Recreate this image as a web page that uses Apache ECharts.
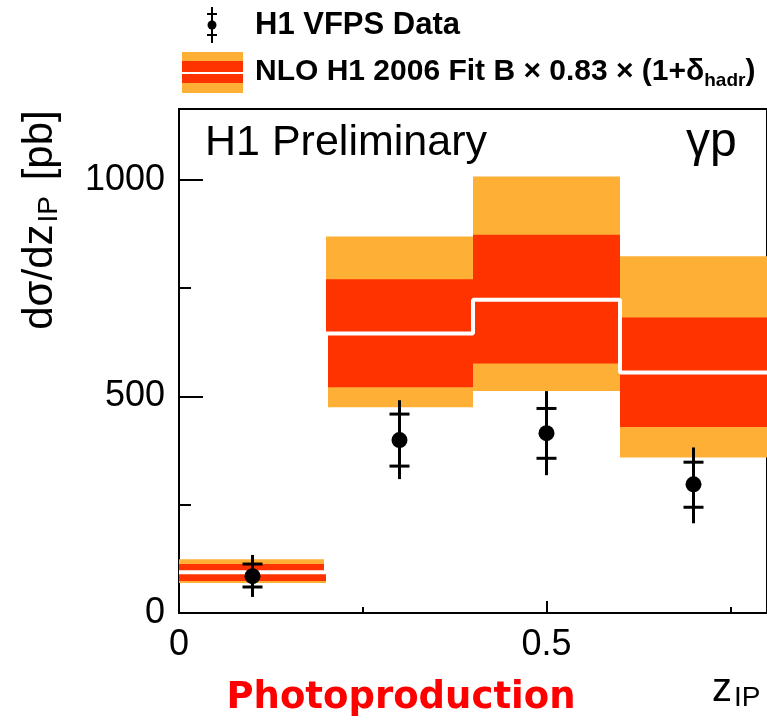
<!DOCTYPE html>
<html>
<head>
<meta charset="utf-8">
<script src="https://cdn.jsdelivr.net/npm/echarts@6/dist/echarts.min.js"></script>
<style>
html,body{margin:0;padding:0;background:#fff;}
#c{width:767px;height:726px;}
</style>
</head>
<body>
<div id="c"></div>
<script>
// ---- data ----
const binLo = [0, 0.2, 0.4, 0.6];
const binHi = [0.2, 0.4, 0.6, 0.8];
const nloCentral = [94, 645, 723, 555];
const nloInnerLo = [74, 521, 576, 429];
const nloInnerHi = [113, 770, 873, 682];
const nloOuterLo = [69, 475, 512, 359];
const nloOuterHi = [124, 869, 1007, 823];

const dataX = [0.1, 0.3, 0.5, 0.7];
const dataY = [85, 399, 415, 297];
const statLo = [60, 339, 357, 244];
const statHi = [113, 459, 472, 348];
const totLo = [37, 309, 318, 207];
const totHi = [134, 491, 512, 382];

const xTickLabels = {0: '0', 0.5: '0.5'};
const yTickLabels = {0: '0', 500: '500', 1000: '1000'};

const ORANGE = '#fdb035';
const RED = '#ff3300';
const FONT = '"Liberation Sans", Arial, Helvetica, sans-serif';

// ---- derived ----
const bandData = binLo.map((lo, i) => [lo, binHi[i], nloOuterLo[i], nloOuterHi[i], nloInnerLo[i], nloInnerHi[i]]);
const stepData = [];
binLo.forEach((lo, i) => { stepData.push([lo, nloCentral[i]]); stepData.push([binHi[i], nloCentral[i]]); });
const pointData = dataX.map((x, i) => [x, dataY[i], statLo[i], statHi[i], totLo[i], totHi[i]]);

const chart = echarts.init(document.getElementById('c'), null, {renderer: 'canvas'});

const tickLabelStyle = {fontSize: 36, color: '#000', fontFamily: FONT};

const option = {
  animation: false,
  backgroundColor: '#fff',
  grid: {left: 179, top: 109, width: 588, bottom: 113, show: true, borderColor: '#000', borderWidth: 2, backgroundColor: 'transparent'},
  xAxis: [
    {type: 'value', min: 0, max: 0.8, interval: 0.5, position: 'bottom',
     axisLine: {show: false}, splitLine: {show: false},
     axisTick: {inside: true, length: 12, lineStyle: {color: '#000', width: 2}},
     axisLabel: Object.assign({margin: 14, showMaxLabel: false, formatter: v => xTickLabels[v] || ''}, tickLabelStyle)},
    {type: 'value', min: 0, max: 0.8, interval: 0.25, position: 'bottom',
     axisLine: {show: false}, splitLine: {show: false}, axisLabel: {show: false},
     axisTick: {inside: true, length: 6, lineStyle: {color: '#000', width: 2}}}
  ],
  yAxis: [
    {type: 'value', min: 0, max: 1163, interval: 500, position: 'left',
     axisLine: {show: false}, splitLine: {show: false},
     axisTick: {inside: true, length: 24, lineStyle: {color: '#000', width: 2}},
     axisLabel: Object.assign({margin: 14, showMaxLabel: false, formatter: v => yTickLabels[v] || ''}, tickLabelStyle)},
    {type: 'value', min: 0, max: 1163, interval: 250, position: 'left',
     axisLine: {show: false}, splitLine: {show: false}, axisLabel: {show: false},
     axisTick: {inside: true, length: 12, lineStyle: {color: '#000', width: 2}}}
  ],
  series: [
    {
      type: 'custom', z: 1, silent: true,
      encode: {x: [0, 1], y: [2, 3, 4, 5]},
      data: bandData,
      renderItem: function (params, api) {
        const o1 = api.coord([api.value(0), api.value(3)]);
        const o2 = api.coord([api.value(1), api.value(2)]);
        const i1 = api.coord([api.value(0), api.value(5)]);
        const i2 = api.coord([api.value(1), api.value(4)]);
        return {type: 'group', children: [
          {type: 'rect', shape: {x: o1[0], y: o1[1], width: o2[0] - o1[0], height: o2[1] - o1[1]}, style: {fill: ORANGE}},
          {type: 'rect', shape: {x: i1[0], y: i1[1], width: i2[0] - i1[0], height: i2[1] - i1[1]}, style: {fill: RED}}
        ]};
      }
    },
    {
      type: 'line', z: 2, silent: true, showSymbol: false, symbol: 'none',
      data: stepData,
      lineStyle: {color: '#ffffff', width: 4},
      clip: true
    },
    {
      type: 'custom', z: 3, silent: true,
      encode: {x: 0, y: [1, 2, 3, 4, 5]},
      data: pointData,
      renderItem: function (params, api) {
        const c = api.coord([api.value(0), api.value(1)]);
        const sLo = api.coord([api.value(0), api.value(2)]);
        const sHi = api.coord([api.value(0), api.value(3)]);
        const tLo = api.coord([api.value(0), api.value(4)]);
        const tHi = api.coord([api.value(0), api.value(5)]);
        const hw = 10;
        const ls = {stroke: '#000', lineWidth: 3};
        return {type: 'group', children: [
          {type: 'line', shape: {x1: c[0], y1: tLo[1], x2: c[0], y2: tHi[1]}, style: ls},
          {type: 'line', shape: {x1: c[0] - hw, y1: sLo[1], x2: c[0] + hw, y2: sLo[1]}, style: ls},
          {type: 'line', shape: {x1: c[0] - hw, y1: sHi[1], x2: c[0] + hw, y2: sHi[1]}, style: ls},
          {type: 'circle', shape: {cx: c[0], cy: c[1], r: 8}, style: {fill: '#000'}}
        ]};
      }
    }
  ],
  graphic: [
    // legend: data marker
    {type: 'line', shape: {x1: 212, y1: 7, x2: 212, y2: 43}, style: {stroke: '#000', lineWidth: 2}},
    {type: 'line', shape: {x1: 207, y1: 14, x2: 217, y2: 14}, style: {stroke: '#000', lineWidth: 2}},
    {type: 'line', shape: {x1: 207, y1: 35, x2: 217, y2: 35}, style: {stroke: '#000', lineWidth: 2}},
    {type: 'circle', shape: {cx: 212, cy: 25, r: 4.5}, style: {fill: '#000'}},
    {type: 'text', x: 255, y: 25, style: {text: 'H1 VFPS Data', fontSize: 31, fontWeight: 'bold', fontFamily: FONT, fill: '#000', verticalAlign: 'middle', align: 'left'}},
    // legend: band
    {type: 'rect', shape: {x: 182, y: 52, width: 61, height: 41}, style: {fill: ORANGE}},
    {type: 'rect', shape: {x: 182, y: 61, width: 61, height: 22}, style: {fill: RED}},
    {type: 'line', shape: {x1: 182, y1: 73, x2: 243, y2: 73}, style: {stroke: '#fff', lineWidth: 2}},
    {type: 'text', x: 255, y: 72, style: {
      text: '{a|NLO H1 2006 Fit B × 0.83 × (1+δ}{s|hadr}{a|)}',
      fontFamily: FONT, fill: '#000', verticalAlign: 'middle', align: 'left',
      rich: {
        a: {fontSize: 30, fontWeight: 'bold', fontFamily: FONT, fill: '#000', lineHeight: 36},
        s: {fontSize: 19, fontWeight: 'bold', fontFamily: FONT, fill: '#000', lineHeight: 26, verticalAlign: 'bottom'}
      }
    }},
    // in-plot texts
    {type: 'text', x: 205, y: 143, z: 10, style: {text: 'H1 Preliminary', fontSize: 43, fontFamily: FONT, fill: '#000', verticalAlign: 'middle', align: 'left'}},
    {type: 'text', x: 686, y: 143, z: 10, style: {text: 'γp', fontSize: 48, fontFamily: FONT, fill: '#000', verticalAlign: 'middle', align: 'left'}},
    // y axis title (rotated)
    {type: 'text', x: 40, y: 220, rotation: Math.PI / 2, style: {
      text: '{a|dσ/dz}{s|IP}{a| [pb]}', align: 'center', verticalAlign: 'middle',
      rich: {
        a: {fontSize: 42, fontFamily: FONT, fill: '#000', lineHeight: 46},
        s: {fontSize: 28, fontFamily: FONT, fill: '#000', lineHeight: 30, verticalAlign: 'bottom', padding: [0, 4, 0, 2]}
      }
    }},
    // x axis title
    {type: 'text', x: 712, y: 690, style: {
      text: '{a|z}{s|IP}', align: 'left', verticalAlign: 'middle',
      rich: {
        a: {fontSize: 40, fontFamily: FONT, fill: '#000', lineHeight: 44},
        s: {fontSize: 28, fontFamily: FONT, fill: '#000', lineHeight: 30, verticalAlign: 'bottom', padding: [0, 0, 0, 2]}
      }
    }},
    // footer label
    {type: 'text', x: 401, y: 698, style: {text: 'Photoproduction', fontSize: 37, fontWeight: 'bold', fontFamily: '"DejaVu Sans", sans-serif', fill: '#ff0000', align: 'center', verticalAlign: 'middle'}}
  ]
};
chart.setOption(option);
</script>
</body>
</html>
